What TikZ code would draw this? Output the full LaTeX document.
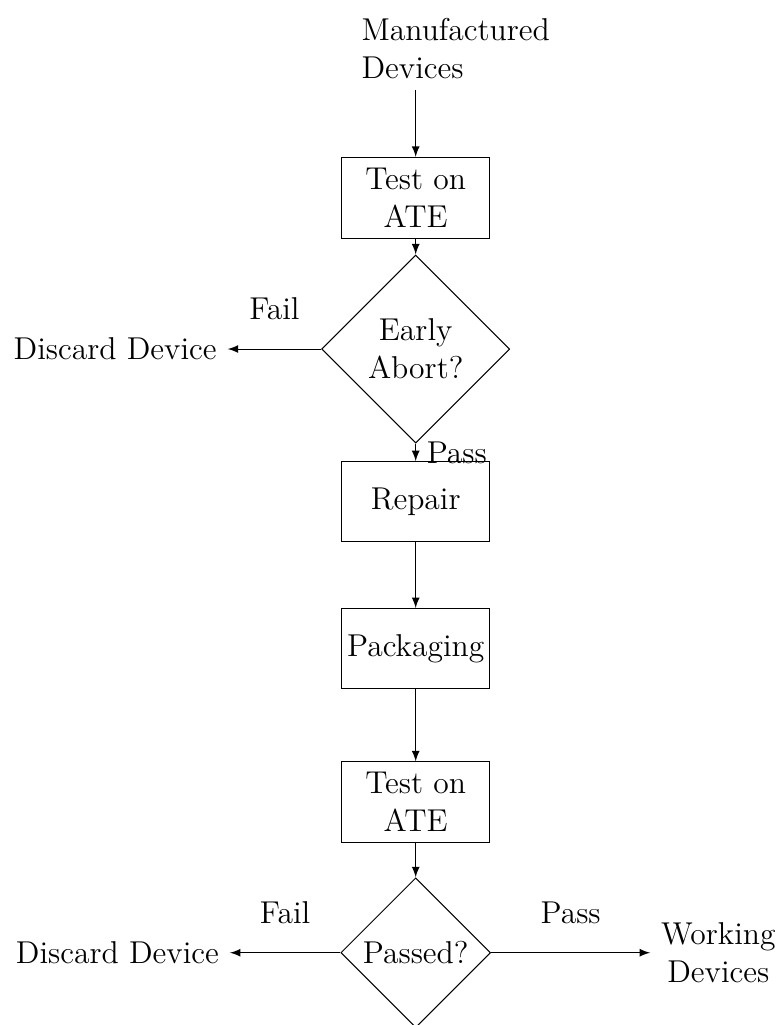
\documentclass[tikz,border=0pt,12pt]{standalone}
\usepackage{tikz}
\usetikzlibrary{shapes.geometric}

\tikzset{
    box/.style={rectangle, draw, align=center, inner xsep=1pt, minimum width=1.98cm, minimum height=1.07cm},
    decision/.style={diamond, draw, align=center, inner sep=1pt, aspect=1},
    flow/.style={draw, -latex}
}

\begin{document}
\begin{tikzpicture}
    \useasboundingbox (0,0) rectangle (10.36,-13.685);

    % Draw the steps of the flow
    \node[align=left, anchor=south west] (devices) at (4.68,-1.2) {Manufactured\\Devices};
    \node[box] (test1) at (5.55,-2.64) {Test on\\ATE};
    \node[decision, minimum size=2.51cm] (abort) at (5.55,-4.66) {Early\\Abort?};
    \node[anchor=east] (discard1) at (3.04,-4.66) {Discard Device};
    \node[box] (repair) at (5.55,-6.70) {Repair};
    \node[box] (packaging) at (5.55,-8.66) {Packaging};
    \node[box] (test2) at (5.55,-10.71) {Test on\\ATE};
    \node[decision, minimum size=2.0cm] (passed) at (5.55,-12.72) {Passed?};
    \node[anchor=east] (discard2) at (3.07,-12.72) {Discard Device};
    \node[align=center, anchor=west] (working) at (8.68,-12.72) {Working\\Devices};

    % Draw the arrows between the steps
    \draw[flow] (devices.south -| test1.north) -- (test1.north);
    \draw[flow] (test1) -- (abort);
    \draw[flow] (abort) -- node[above=2.4mm] {Fail} (discard1);
    \draw[flow] (abort) -- node[right] {Pass} (repair);
    \draw[flow] (repair) -- (packaging);
    \draw[flow] (packaging) -- (test2);
    \draw[flow] (test2) -- (passed);
    \draw[flow] (passed) -- node[above=2.4mm] {Fail} (discard2);
    \draw[flow] (passed) -- node[above=2.4mm] {Pass} (working);
\end{tikzpicture}
\end{document}
